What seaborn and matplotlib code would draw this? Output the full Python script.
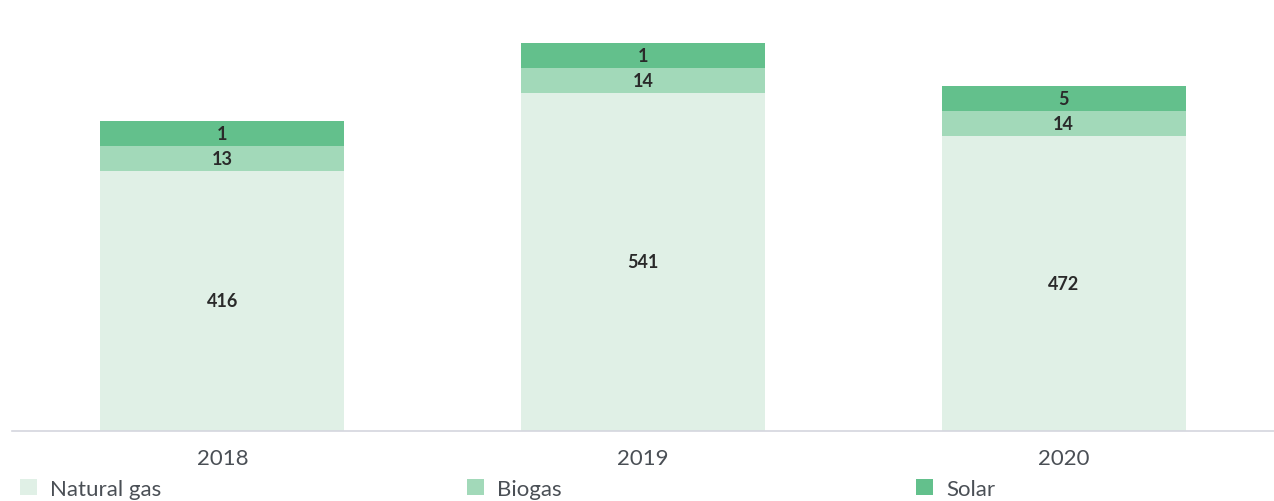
import numpy as np
import pandas as pd
import matplotlib
matplotlib.use("Agg")
import matplotlib.pyplot as plt
import seaborn as sns
from matplotlib.patches import Patch

years = ["2018", "2019", "2020"]
natural_gas = [416, 541, 472]
biogas = [13, 14, 14]
solar = [1, 1, 5]
series_names = ["Natural gas", "Biogas", "Solar"]
colors = ["#e0f0e6", "#a2d9b9", "#63c08c"]

# small segments are drawn with a minimum visible height (as in the reference)
MIN_VIS = 40
ng_h = np.maximum(np.array(natural_gas, float), MIN_VIS)
bg_h = np.maximum(np.array(biogas, float), MIN_VIS)
so_h = np.maximum(np.array(solar, float), MIN_VIS)

sns.set_theme(style="white")
plt.rcParams["font.family"] = ["Lato", "DejaVu Sans"]

fig = plt.figure(figsize=(12.74, 5.02), dpi=100)
ax = fig.add_axes([12 / 1274, 70 / 502, 1262 / 1274, 397 / 502])

df = pd.DataFrame({"year": years,
                   "top3": ng_h + bg_h + so_h,
                   "top2": ng_h + bg_h,
                   "top1": ng_h})

bw = 0.58
sns.barplot(data=df, x="year", y="top3", color=colors[2], width=bw, ax=ax,
            saturation=1, linewidth=0)
sns.barplot(data=df, x="year", y="top2", color=colors[1], width=bw, ax=ax,
            saturation=1, linewidth=0)
sns.barplot(data=df, x="year", y="top1", color=colors[0], width=bw, ax=ax,
            saturation=1, linewidth=0)

ax.set_ylim(0, 635)
ax.set_xlim(-0.5, 2.5)
ax.set_xlabel("")
ax.set_ylabel("")
ax.set_yticks([])
for s in ["top", "left", "right"]:
    ax.spines[s].set_visible(False)
ax.spines["bottom"].set_color("#d4d6de")
ax.spines["bottom"].set_linewidth(1.2)
ax.tick_params(axis="x", length=0, pad=12, labelsize=16, labelcolor="#4a4f55")

lab_kw = dict(ha="center", va="center", fontsize=13, fontweight="bold", color="#2a2a2a")
for i in range(len(years)):
    ax.text(i, ng_h[i] / 2, str(natural_gas[i]), **lab_kw)
    ax.text(i, ng_h[i] + bg_h[i] / 2, str(biogas[i]), **lab_kw)
    ax.text(i, ng_h[i] + bg_h[i] + so_h[i] / 2, str(solar[i]), **lab_kw)

legend_x = [20, 467, 916]
for c, n, lx in zip(colors, series_names, legend_x):
    h = Patch(facecolor=c, edgecolor="none", label=n)
    fig.legend(handles=[h], loc="center left",
               bbox_to_anchor=(lx / 1274, 1 - 490 / 502),
               frameon=False, fontsize=16, labelcolor="#4a4f55",
               handlelength=0.75, handleheight=0.75, handletextpad=0.6,
               borderaxespad=0, borderpad=0)

fig.savefig("out.png", dpi=100)
